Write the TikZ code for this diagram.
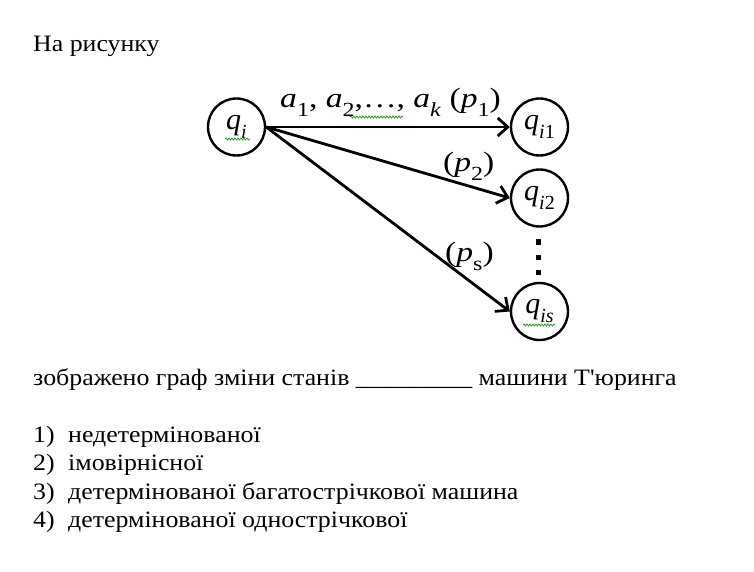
\documentclass[tikz,border=0pt]{standalone}
\usepackage{fontspec}
\setmainfont{Liberation Serif}
\newfontfamily\bodyf{Liberation Serif}[FakeStretch=1.1]
\newfontfamily\lblf{Liberation Serif}[FakeStretch=1.2]
\usetikzlibrary{arrows.meta,decorations.pathmorphing}
\definecolor{squig}{RGB}{40,150,40}
\newcommand{\lsub}[1]{\raisebox{-0.3em}{\fontsize{20}{20}\selectfont #1}}
\tikzset{
  body/.style={font=\bodyf\fontsize{23.5}{27}\selectfont, inner sep=0pt, anchor=base west},
  lbl/.style={font=\lblf\fontsize{28}{30}\selectfont, inner sep=0pt, anchor=base west},
  state/.style={circle, draw, line width=2.4pt, minimum size=57pt, inner sep=0pt,
                font=\rmfamily\fontsize{30}{30}\selectfont},
  edge/.style={line width=2.8pt, -{Straight Barb[length=10pt,width=18pt,line width=2.8pt]}},
  squiggle/.style={draw=squig, line width=0.8pt, decorate,
                   decoration={snake, amplitude=1pt, segment length=3pt}},
  dotsq/.style={fill=black, minimum size=5pt, inner sep=0pt}
}
\begin{document}
\begin{tikzpicture}[x=1pt,y=1pt]
\useasboundingbox (0,0) rectangle (754,571);
% text
\node[body] (t1) at (33,519) {На рисунку};
\node[body] (t2) at (33,186) {зображено граф зміни станів \_\_\_\_\_\_\_\_\_ машини Т'юринга};
\node[body] (n1) at (33,129) {1)};
\node[body] (a1) at (68,129) {недетермінованої};
\node[body] (n2) at (33,100.5) {2)};
\node[body] (a2) at (68,100.5) {імовірнісної};
\node[body] (n3) at (33,72) {3)};
\node[body] (a3) at (68,72) {детермінованої багатострічкової машина};
\node[body] (n4) at (33,43.5) {4)};
\node[body] (a4) at (68,43.5) {детермінованої однострічкової};
% states
\node[state] (qi)  at (236.5,444) {\textit{q}\lsub{\textit{i}}};
\node[state] (qi1) at (539.5,444) {\textit{q}\lsub{\textit{i}1}};
\node[state] (qi2) at (539.5,373) {\textit{q}\lsub{\textit{i}2}};
\node[state] (qis) at (539.5,259.5) {\textit{q}\lsub{\textit{is}}};
% dots
\node[dotsq] (d1) at (538,329) {};
\node[dotsq] (d2) at (538,314) {};
\node[dotsq] (d3) at (538,299) {};
% edges
\draw[edge] (qi.east) -- (qi1.west);
\draw[edge] (qi.east) -- (qi2.west);
\draw[edge] (qi.east) -- (qis.west);
% labels
\node[lbl] (l1) at (280,463) {\textit{a}\lsub{1}, \textit{a}\lsub{2},…, \textit{a}\lsub{\textit{k}} (\textit{p}\lsub{1})};
\node[lbl] (l2) at (443,399) {(\textit{p}\lsub{2})};
\node[lbl] (l3) at (445,309) {(\textit{p}\lsub{s})};
% spell-check squiggles
\coordinate (s1a) at (225,432); \coordinate (s1b) at (250,432);
\coordinate (s2a) at (350,454); \coordinate (s2b) at (403,454);
\coordinate (s3a) at (523,246); \coordinate (s3b) at (555,246);
\path[squiggle] (s1a) -- (s1b);
\path[squiggle] (s2a) -- (s2b);
\path[squiggle] (s3a) -- (s3b);
\end{tikzpicture}
\end{document}
